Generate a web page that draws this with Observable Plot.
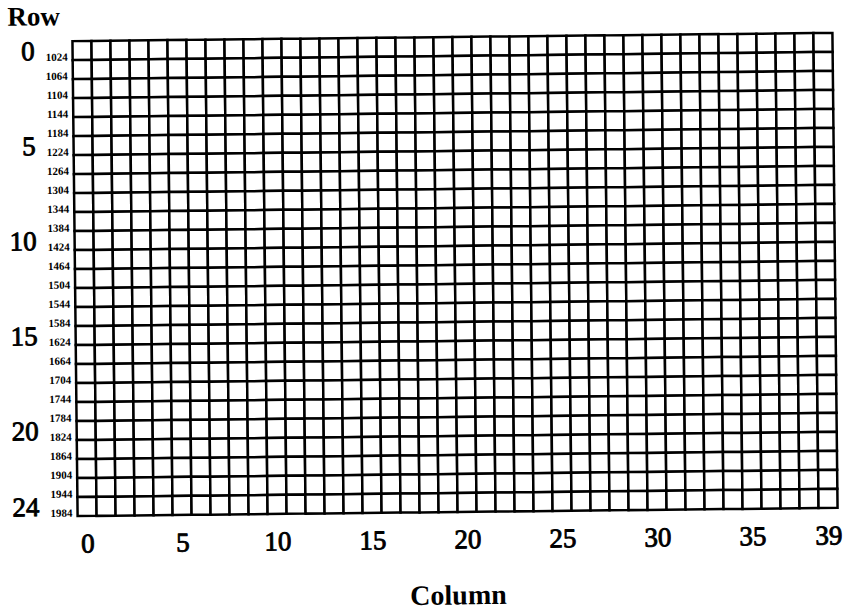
<!DOCTYPE html>
<html>
<head>
<meta charset="utf-8">
<script src="https://cdn.jsdelivr.net/npm/d3@7"></script>
<script src="https://cdn.jsdelivr.net/npm/@observablehq/plot@0.6"></script>
<style>
  html, body { margin: 0; padding: 0; background: #fff; }
  #chart { width: 856px; height: 611px; overflow: hidden; }
  #chart svg { transform-origin: 454.5px 274.25px; transform: rotate(-0.62deg); }
</style>
</head>
<body>
<div id="chart"></div>
<script>
const rows = [0,1,2,3,4,5,6,7,8,9,10,11,12,13,14,15,16,17,18,19,20,21,22,23,24];
const columns = [0,1,2,3,4,5,6,7,8,9,10,11,12,13,14,15,16,17,18,19,20,21,22,23,24,25,26,27,28,29,30,31,32,33,34,35,36,37,38,39];
const rowTickLabels = [0, 5, 10, 15, 20, 24];
const columnTickLabels = [0, 5, 10, 15, 20, 25, 30, 35, 39];
const addresses = [1024,1064,1104,1144,1184,1224,1264,1304,1344,1384,1424,1464,1504,1544,1584,1624,1664,1704,1744,1784,1824,1864,1904,1944,1984];
const rowTitle = "Row";
const columnTitle = "Column";

const cells = d3.cross(rows, columns, (r, c) => ({row: r, column: c}));
const serif = "'Liberation Serif', 'DejaVu Serif', serif";

const chart = Plot.plot({
  width: 856,
  height: 611,
  marginLeft: 74.5,
  marginRight: 21.5,
  marginTop: 33.75,
  marginBottom: 96.25,
  style: {fontFamily: serif, background: "white", color: "black"},
  x: {type: "band", domain: columns, padding: 0, label: null, axis: null},
  y: {type: "band", domain: rows, padding: 0, label: null, axis: null},
  marks: [
    Plot.cell(cells, {x: "column", y: "row", fill: "white", stroke: "black", strokeWidth: 2.5}),
    Plot.axisY(rowTickLabels, {tickSize: 0, tickPadding: 38, fontSize: 27, fill: "black",
      textStroke: "black", textStrokeWidth: 0.9, textStrokeOpacity: 1}),
    Plot.axisY(rows, {tickSize: 0, tickPadding: 5, fontSize: 11, fontWeight: "bold", dy: 6, fill: "black",
      tickFormat: d => String(addresses[rows.indexOf(d)])}),
    Plot.axisX(columnTickLabels, {anchor: "bottom", tickSize: 0, tickPadding: 14, fontSize: 27, fill: "black",
      textStroke: "black", textStrokeWidth: 0.9, textStrokeOpacity: 1}),
    Plot.text([rowTitle], {frameAnchor: "top-left", text: d => d, textAnchor: "start", lineAnchor: "bottom",
      dx: -64.8, dy: -13.25, fontSize: 27, fontWeight: "bold", fill: "black"}),
    Plot.text([columnTitle], {frameAnchor: "bottom", text: d => d, textAnchor: "middle", lineAnchor: "bottom",
      dy: 89.25, fontSize: 28, fontWeight: "bold", fill: "black"})
  ]
});
document.getElementById("chart").append(chart);
</script>
</body>
</html>
